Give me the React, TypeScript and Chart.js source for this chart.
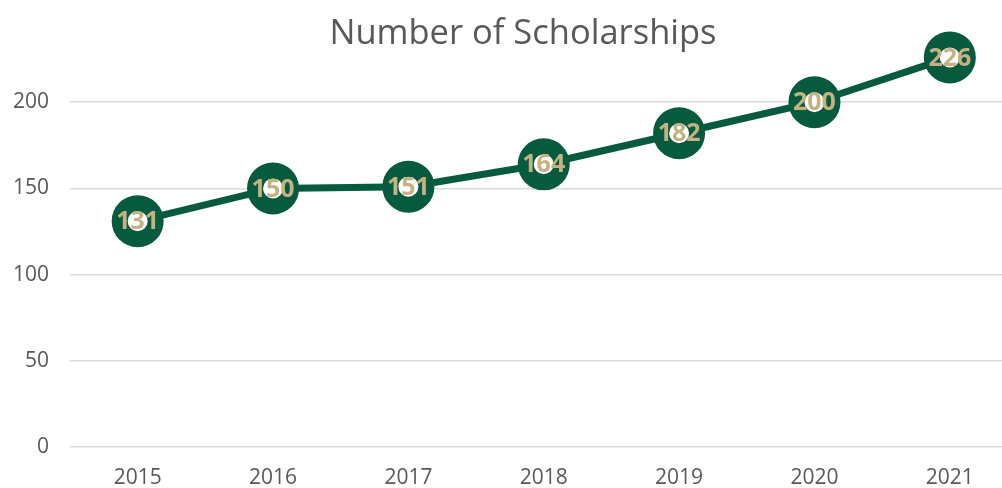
import React, { useEffect, useRef } from 'react';
import { Chart, registerables } from 'chart.js';

Chart.register(...registerables);

const TITLE = 'Number of Scholarships';
const YEARS = ['2015', '2016', '2017', '2018', '2019', '2020', '2021'];
const SCHOLARSHIPS = [131, 150, 151, 164, 182, 200, 226];
const Y_TICKS = [0, 50, 100, 150, 200];
const Y_MAX = 250;

const GREEN = '#065b3e';
const TAN = '#c6b281';
const GREY_TEXT = '#595959';
const GRID = '#d9d9d9';
const FONT = '"Open Sans", sans-serif';

const CANVAS_W = 1050;
const CANVAS_H = 488;

const titlePlugin = {
  id: 'overlayTitle',
  afterDraw(chart: any) {
    const ctx = chart.ctx;
    ctx.save();
    ctx.font = `34.5px ${FONT}`;
    ctx.fillStyle = GREY_TEXT;
    ctx.textAlign = 'center';
    ctx.textBaseline = 'alphabetic';
    ctx.fillText(TITLE, 523, 44);
    ctx.restore();
  },
};

const labelPlugin = {
  id: 'pointLabels',
  afterDatasetsDraw(chart: any) {
    const ctx = chart.ctx;
    const meta = chart.getDatasetMeta(0);
    const data = chart.data.datasets[0].data;
    ctx.save();
    ctx.font = `bold 25px ${FONT}`;
    ctx.fillStyle = TAN;
    ctx.textAlign = 'center';
    ctx.textBaseline = 'middle';
    meta.data.forEach((pt: any, i: number) => {
      ctx.fillText(String(data[i]), pt.x, pt.y + 1);
    });
    ctx.restore();
  },
};

export default function App() {
  const ref = useRef<HTMLCanvasElement | null>(null);

  useEffect(() => {
    if (!ref.current) return;
    const chart = new Chart(ref.current, {
      type: 'line',
      data: {
        labels: YEARS,
        datasets: [
          {
            data: SCHOLARSHIPS,
            borderColor: GREEN,
            borderWidth: 7,
            pointRadius: 18,
            pointHoverRadius: 18,
            pointBorderWidth: 16,
            pointBorderColor: GREEN,
            pointBackgroundColor: '#ffffff',
            tension: 0,
            clip: false as any,
          },
        ],
      },
      options: {
        responsive: false,
        animation: false,
        layout: {
          autoPadding: false,
          padding: { top: 16, right: 32.5, left: 0, bottom: 0 },
        },
        plugins: {
          legend: { display: false },
          tooltip: { enabled: false },
          title: { display: false },
        },
        scales: {
          x: {
            offset: true,
            grid: { display: false },
            border: { display: false },
            ticks: {
              color: GREY_TEXT,
              font: { family: FONT, size: 21 },
              padding: 10.5,
              maxRotation: 0,
            },
            afterFit: (scale: any) => {
              scale.height = 41;
            },
          },
          y: {
            min: 0,
            max: Y_MAX,
            afterBuildTicks: (scale: any) => {
              scale.ticks = Y_TICKS.map((v) => ({ value: v }));
            },
            afterFit: (scale: any) => {
              scale.width = 70;
            },
            grid: {
              color: GRID,
              lineWidth: 1.5,
              drawTicks: true,
              tickLength: 21,
              tickColor: 'rgba(0,0,0,0)',
            },
            border: { display: false },
            ticks: {
              color: GREY_TEXT,
              font: { family: FONT, size: 21 },
              padding: 0,
            },
          },
        },
      },
      plugins: [labelPlugin, titlePlugin],
    });
    return () => chart.destroy();
  }, []);

  return (
    <div
      style={{
        position: 'fixed',
        left: 0,
        top: 0,
        width: 1002,
        height: 488,
        overflow: 'hidden',
        background: '#ffffff',
      }}
    >
      <canvas ref={ref} width={CANVAS_W} height={CANVAS_H} style={{ display: 'block' }} />
    </div>
  );
}
